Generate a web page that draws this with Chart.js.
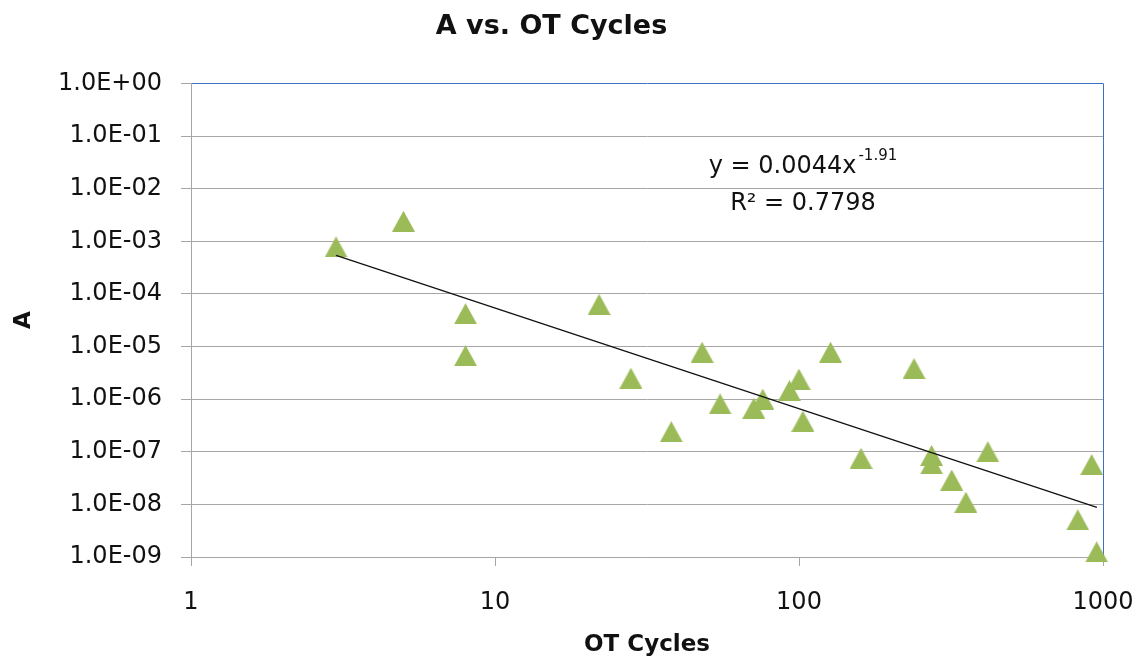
<!DOCTYPE html>
<html lang="en">
<head>
    <meta charset="UTF-8" />
    <title>A vs. OT Cycles</title>
    <style>
        body {
            margin: 0;
            background: #ffffff;
        }

        .chart-box {
            width: 1143px;
            height: 665px;
        }
    </style>
    <script src="https://cdn.jsdelivr.net/npm/chart.js"></script>
</head>
<body>
    <div class="chart-box">
        <canvas id="cyclesChart" width="1143" height="665"></canvas>
    </div>

    <script>
        // measured points (OT cycles vs A)
        const otCycles = [3, 5, 8, 8, 22, 28, 38, 48, 55, 71, 76, 93, 100, 103, 127, 160, 239, 273, 273, 318, 354, 418, 826, 918, 953];
        const aValues = [7.8e-4, 2.4e-3, 4.2e-5, 6.7e-6, 6.3e-5, 2.5e-6, 2.4e-7, 7.8e-6, 8.1e-7, 6.7e-7, 1.0e-6, 1.45e-6, 2.4e-6, 3.8e-7,
            7.8e-6, 7.5e-8, 3.8e-6, 8.5e-8, 5.9e-8, 2.9e-8, 1.1e-8, 1.0e-7, 5.1e-9, 5.7e-8, 1.25e-9];

        // power trendline, read at its two ends
        const trendX = [3, 955];
        const trendY = [5.4e-4, 8.8e-9];

        const xTicks = [1, 10, 100, 1000];
        const xTickLabels = ["1", "10", "100", "1000"];
        const yTicks = [1, 1e-1, 1e-2, 1e-3, 1e-4, 1e-5, 1e-6, 1e-7, 1e-8, 1e-9];
        const yTickLabels = ["1.0E+00", "1.0E-01", "1.0E-02", "1.0E-03", "1.0E-04", "1.0E-05", "1.0E-06", "1.0E-07", "1.0E-08", "1.0E-09"];

        const eqMain = "y = 0.0044x";
        const eqPower = "-1.91";
        const eqR2 = "R\u00b2 = 0.7798";

        const GREEN = "#9bbb59";
        const GRID = "#a6a6a6";
        const BLUE = "#3d6fc4";
        const FONT = "'DejaVu Sans', sans-serif";

        Chart.defaults.font.family = FONT;
        Chart.defaults.color = "#111";

        // triangle marker, centred on its box like Excel draws it
        const tri = document.createElement("canvas");
        tri.width = 23;
        tri.height = 21;
        const tc = tri.getContext("2d");
        tc.fillStyle = GREEN;
        tc.beginPath();
        tc.moveTo(11.5, 0);
        tc.lineTo(23, 21);
        tc.lineTo(0, 21);
        tc.closePath();
        tc.fill();

        const equationLabel = {
            id: "equationLabel",
            afterDatasetsDraw(chart) {
                const ctx = chart.ctx;
                const area = chart.chartArea;
                const cx = area.left + (area.right - area.left) * 0.671;
                ctx.save();
                ctx.fillStyle = "#111";
                ctx.textBaseline = "middle";
                ctx.textAlign = "left";
                ctx.font = "24px " + FONT;
                const wMain = ctx.measureText(eqMain).width;
                ctx.font = "15px " + FONT;
                const wPow = ctx.measureText(eqPower).width;
                let x0 = cx - (wMain + wPow + 2) / 2;
                ctx.font = "24px " + FONT;
                ctx.fillText(eqMain, x0, area.top + 83);
                ctx.font = "15px " + FONT;
                ctx.fillText(eqPower, x0 + wMain + 2, area.top + 73);
                ctx.font = "24px " + FONT;
                ctx.textAlign = "center";
                ctx.fillText(eqR2, cx, area.top + 120);
                ctx.restore();
            },
        };

        function createChart() {
            const points = otCycles.map((x, i) => ({ x: x, y: aValues[i] }));
            const trend = trendX.map((x, i) => ({ x: x, y: trendY[i] }));

            new Chart(document.getElementById("cyclesChart").getContext("2d"), {
                type: "scatter",
                data: {
                    datasets: [
                        {
                            label: "Trend",
                            data: trend,
                            showLine: true,
                            borderColor: "#111",
                            borderWidth: 1.3,
                            pointRadius: 0,
                            order: 0,
                        },
                        {
                            label: "A",
                            data: points,
                            pointStyle: tri,
                            pointRadius: 11,
                            clip: false,
                            order: 1,
                        },
                    ],
                },
                options: {
                    responsive: false,
                    animation: false,
                    layout: { padding: { left: 0, right: 40, top: 0, bottom: 0 } },
                    plugins: {
                        legend: { display: false },
                        tooltip: { enabled: false },
                        title: {
                            display: true,
                            text: "A vs. OT Cycles",
                            color: "#111",
                            font: { size: 27, weight: "bold", lineHeight: 1.2 },
                            padding: { top: 11, bottom: 40 },
                        },
                    },
                    scales: {
                        x: {
                            type: "logarithmic",
                            min: 1,
                            max: 1000,
                            afterBuildTicks: (s) => { s.ticks = xTicks.map((v) => ({ value: v })); },
                            afterFit: (s) => { s.height = 108; s.paddingLeft = 0; s.paddingRight = 0; },
                            ticks: {
                                font: { size: 24 },
                                padding: 22,
                                maxRotation: 0,
                                callback: (v, i) => xTickLabels[i],
                            },
                            grid: {
                                color: (c) => (c.tick && c.tick.value === 1000 ? BLUE : "rgba(0,0,0,0)"),
                                tickColor: GRID,
                                tickLength: 9,
                            },
                            border: { display: true, color: GRID, width: 1 },
                            title: {
                                display: true,
                                text: "OT Cycles",
                                color: "#111",
                                font: { size: 23, weight: "bold", lineHeight: 1.2 },
                                padding: { top: 0, bottom: 6 },
                            },
                        },
                        y: {
                            type: "logarithmic",
                            min: 1e-9,
                            max: 1,
                            afterBuildTicks: (s) => { s.ticks = yTicks.map((v) => ({ value: v })); },
                            afterFit: (s) => { s.width = 191; s.paddingTop = 0; s.paddingBottom = 0; },
                            ticks: {
                                font: { size: 24 },
                                padding: 19,
                                callback: (v, i) => yTickLabels[i],
                            },
                            grid: {
                                color: (c) => (c.tick && c.tick.value === 1 ? BLUE : GRID),
                                tickColor: GRID,
                                tickLength: 10,
                            },
                            border: { display: true, color: GRID, width: 1 },
                            title: {
                                display: true,
                                text: "A",
                                color: "#111",
                                font: { size: 23, weight: "bold", lineHeight: 1.2 },
                                padding: { top: 10, bottom: 0 },
                            },
                        },
                    },
                },
                plugins: [equationLabel],
            });
        }

        document.addEventListener("DOMContentLoaded", createChart);
    </script>
</body>
</html>
